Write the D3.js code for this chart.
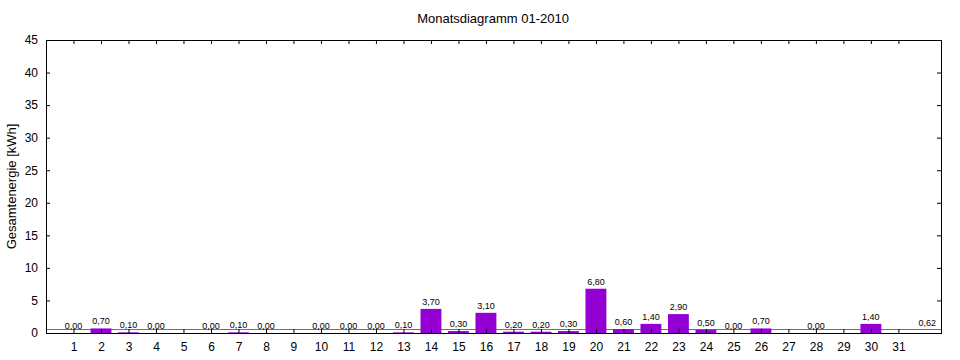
<!DOCTYPE html>
<html>
<head>
<meta charset="utf-8">
<script src="https://cdn.jsdelivr.net/npm/d3@7"></script>
<style>
  body { margin: 0; background: #fff; }
  svg { display: block; }
  text { font-family: "Liberation Sans", Arial, sans-serif; fill: #000; }
</style>
</head>
<body>
<svg id="chart" width="960" height="360"></svg>
<script>
const title = "Monatsdiagramm 01-2010";
const yLabel = "Gesamtenergie [kWh]";
const days = d3.range(1, 32);
const values = [0.00, 0.70, 0.10, 0.00, null, 0.00, 0.10, 0.00, null, 0.00,
                0.00, 0.00, 0.10, 3.70, 0.30, 3.10, 0.20, 0.20, 0.30, 6.80,
                0.60, 1.40, 2.90, 0.50, 0.00, 0.70, null, 0.00, null, 1.40, null];
const average = 0.62;
const yTicks = [0, 5, 10, 15, 20, 25, 30, 35, 40, 45];

const fmt = v => d3.format(".2f")(v).replace(".", ",");

const svg = d3.select("#chart");
const margin = {left: 46, right: 19, top: 40, bottom: 27};
const W = 960, H = 360;
const xMax = 32.55;
const x = d3.scaleLinear().domain([0, xMax]).range([margin.left, W - margin.right]);
const y = d3.scaleLinear().domain([0, 45]).range([H - margin.bottom, margin.top]);
const barW = x(0.76) - x(0);

const data = days.map((d, i) => ({day: d, v: values[i]}));

// average line
const ay = Math.round(y(average)) + 0.5;
svg.append("line")
  .attr("x1", x(0)).attr("x2", x(xMax))
  .attr("y1", ay).attr("y2", ay)
  .attr("stroke", "#229a78").attr("stroke-width", 1.2);

svg.append("text")
  .attr("x", x(xMax) - 5).attr("y", y(average) - 3)
  .attr("text-anchor", "end").attr("font-size", 9)
  .text(fmt(average));

// bars
svg.append("g").selectAll("rect")
  .data(data.filter(d => d.v !== null && d.v > 0))
  .join("rect")
  .attr("x", d => x(d.day) - barW / 2)
  .attr("width", barW)
  .attr("y", d => y(d.v))
  .attr("height", d => y(0) - y(d.v))
  .attr("fill", "#9400d3");

// value labels
svg.append("g").selectAll("text")
  .data(data.filter(d => d.v !== null))
  .join("text")
  .attr("x", d => x(d.day))
  .attr("y", d => y(d.v) - 4)
  .attr("text-anchor", "middle")
  .attr("font-size", 9)
  .text(d => fmt(d.v));

// axes
const xb = d3.axisBottom(x).tickValues(days).tickSize(-4).tickPadding(9).tickFormat(d3.format("d"));
const xt = d3.axisTop(x).tickValues(days).tickSize(-4).tickFormat("");
const yl = d3.axisLeft(y).tickValues(yTicks).tickSize(-4).tickPadding(8).tickFormat(d3.format("d"));
const yr = d3.axisRight(y).tickValues(yTicks).tickSize(-4).tickFormat("");

function style(g) {
  g.select(".domain").remove();
  g.selectAll(".tick line").attr("stroke", "#000");
  g.selectAll(".tick text").attr("font-size", 12).attr("font-family", "Liberation Sans, Arial, sans-serif");
}
svg.append("g").attr("transform", `translate(0,${y(0)})`).call(xb).call(style);
svg.append("g").attr("transform", `translate(0,${y(45)})`).call(xt).call(style);
svg.append("g").attr("transform", `translate(${x(0)},0)`).call(yl).call(style);
svg.append("g").attr("transform", `translate(${x(xMax)},0)`).call(yr).call(style);

// frame
svg.append("rect")
  .attr("x", x(0) + 0.5).attr("y", y(45) + 0.5)
  .attr("width", x(xMax) - x(0)).attr("height", y(0) - y(45))
  .attr("fill", "none").attr("stroke", "#000").attr("stroke-width", 1);

svg.append("text")
  .attr("x", 493).attr("y", 23)
  .attr("text-anchor", "middle").attr("font-size", 13)
  .text(title);

svg.append("text")
  .attr("transform", `translate(16,${(y(0) + y(45)) / 2}) rotate(-90)`)
  .attr("text-anchor", "middle").attr("font-size", 13)
  .text(yLabel);
</script>
</body>
</html>
